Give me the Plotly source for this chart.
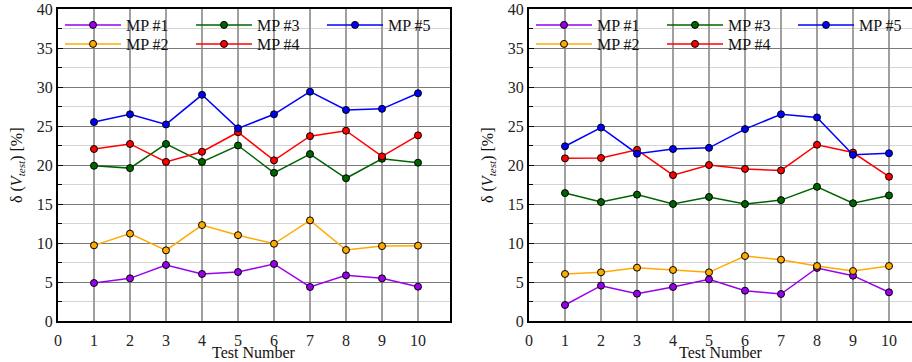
import plotly.graph_objects as go

tests = [1, 2, 3, 4, 5, 6, 7, 8, 9, 10]
x_ticks = [0, 1, 2, 3, 4, 5, 6, 7, 8, 9, 10]
y_ticks = [0, 5, 10, 15, 20, 25, 30, 35, 40]
series_names = ["MP #1", "MP #2", "MP #3", "MP #4", "MP #5"]
series_colors = ["#9900ee", "#ffaa00", "#006400", "#ff0000", "#0000ff"]

# left panel
left_mp1 = [4.87, 5.47, 7.18, 6.03, 6.28, 7.31, 4.36, 5.85, 5.47, 4.40]
left_mp2 = [9.7, 11.2, 9.06, 12.3, 11.0, 9.9, 12.9, 9.1, 9.6, 9.66]
left_mp3 = [19.9, 19.6, 22.7, 20.4, 22.5, 19.0, 21.4, 18.3, 20.8, 20.3]
left_mp4 = [22.05, 22.7, 20.4, 21.7, 24.2, 20.6, 23.7, 24.4, 21.1, 23.8]
left_mp5 = [25.5, 26.5, 25.2, 29.0, 24.7, 26.5, 29.4, 27.05, 27.2, 29.2]

# right panel
right_mp1 = [2.05, 4.53, 3.5, 4.36, 5.34, 3.89, 3.46, 6.8, 5.81, 3.68]
right_mp2 = [6.03, 6.24, 6.84, 6.54, 6.24, 8.33, 7.86, 7.05, 6.41, 7.05]
right_mp3 = [16.4, 15.25, 16.2, 15.0, 15.9, 15.0, 15.5, 17.2, 15.1, 16.1]
right_mp4 = [20.85, 20.9, 21.95, 18.7, 20.0, 19.5, 19.3, 22.6, 21.6, 18.5]
right_mp5 = [22.4, 24.8, 21.45, 22.05, 22.2, 24.6, 26.5, 26.1, 21.3, 21.5]

left_data = [left_mp1, left_mp2, left_mp3, left_mp4, left_mp5]
right_data = [right_mp1, right_mp2, right_mp3, right_mp4, right_mp5]

W, H = 912, 362
PLOT_TOP, PLOT_BOTTOM = 9, 321
L_X0, L_X1 = 58, 450
R_X0 = 529
PX_PER_UNIT = 36.0

FONT = '"Liberation Serif", "Times New Roman", Times, serif'

fig = go.Figure()

# legend assignment: row 1 -> MP#1, MP#3, MP#5 ; row 2 -> MP#2, MP#4
row_of = [0, 1, 0, 1, 0]
for panel, data, axes, legs in (
    ("L", left_data, ("x", "y"), ("legend", "legend2")),
    ("R", right_data, ("x2", "y2"), ("legend3", "legend4")),
):
    for i, (name, vals, col) in enumerate(zip(series_names, data, series_colors)):
        extra = {}
        if i == 4:
            # wide last entry so the legend never pushes the margins
            extra["legendwidth"] = 200
        fig.add_trace(go.Scatter(
            x=tests, y=vals, name=name, mode="lines+markers",
            line=dict(color=col, width=1.5),
            marker=dict(color=col, size=7, line=dict(color="black", width=1)),
            xaxis=axes[0], yaxis=axes[1],
            legend=legs[row_of[i]],
            legendrank=i,
            **extra,
        ))


def ypaper(px):
    return (PLOT_BOTTOM - px) / (PLOT_BOTTOM - PLOT_TOP)


LEG_X = 60
leg_common = dict(
    orientation="h", bgcolor="rgba(0,0,0,0)", borderwidth=0,
    font=dict(family=FONT, size=16, color="#111"),
    itemwidth=56, entrywidth=60, entrywidthmode="pixels",
    xanchor="left", yanchor="middle", traceorder="normal",
    tracegroupgap=0,
)
fig.update_layout(
    legend=dict(x=LEG_X / W, y=ypaper(25), **leg_common),
    legend2=dict(x=LEG_X / W, y=ypaper(44), **leg_common),
    legend3=dict(x=(LEG_X + R_X0 - L_X0) / W, y=ypaper(25), **leg_common),
    legend4=dict(x=(LEG_X + R_X0 - L_X0) / W, y=ypaper(44), **leg_common),
)

xcommon = dict(
    tickvals=x_ticks, ticktext=[str(v) for v in x_ticks],
    showgrid=True, gridcolor="#a0a0a0", gridwidth=1.5,
    showline=True, linecolor="black", linewidth=2,
    ticks="", zeroline=False, mirror=True,
    tickfont=dict(family=FONT, size=16, color="#222"),
    ticklabelstandoff=4,
)
ycommon = dict(
    range=[0, 40], tickvals=y_ticks,
    showgrid=True, gridcolor="#7a7a7a", gridwidth=1.2,
    showline=True, linecolor="black", linewidth=2,
    ticks="inside", ticklen=5, tickcolor="black",
    zeroline=False,
    tickfont=dict(family=FONT, size=16, color="#222"),
    minor=dict(dtick=2.5, showgrid=True, gridcolor="#d4d4d4", gridwidth=1,
               ticks="inside", ticklen=4, tickcolor="black"),
)

fig.update_layout(
    xaxis=dict(domain=[L_X0 / W, L_X1 / W],
               range=[0, (L_X1 - L_X0) / PX_PER_UNIT], anchor="y", **xcommon),
    yaxis=dict(domain=[0, 1], anchor="x", mirror=True, **ycommon),
    xaxis2=dict(domain=[R_X0 / W, 1],
                range=[0, (W - R_X0) / PX_PER_UNIT], anchor="y2", **xcommon),
    yaxis2=dict(domain=[0, 1], anchor="x2", mirror=False, **ycommon),
)

ylabel = "δ (<i>V</i><sub><i>test</i></sub>) [%]"
afont = dict(family=FONT, size=16, color="#111")
anns = [
    dict(text=ylabel, xref="paper", yref="paper", x=17 / W, y=ypaper(165),
         textangle=-90, showarrow=False, xanchor="center", yanchor="middle", font=afont),
    dict(text=ylabel, xref="paper", yref="paper", x=(17 + R_X0 - L_X0) / W,
         y=ypaper(165), textangle=-90, showarrow=False,
         xanchor="center", yanchor="middle", font=afont),
    dict(text="Test Number", xref="paper", yref="paper",
         x=(L_X0 + L_X1) / 2 / W, y=ypaper(352), showarrow=False,
         xanchor="center", yanchor="middle", font=afont),
    dict(text="Test Number", xref="paper", yref="paper",
         x=(R_X0 + W) / 2 / W, y=ypaper(352), showarrow=False,
         xanchor="center", yanchor="middle", font=afont),
]

fig.update_layout(
    annotations=anns,
    width=W, height=H,
    margin=dict(l=0, r=0, t=PLOT_TOP, b=H - PLOT_BOTTOM, pad=0, autoexpand=False),
    plot_bgcolor="white", paper_bgcolor="white",
    showlegend=True,
)

fig.write_html("out.html",
               config={"displayModeBar": False},
               post_script="document.body.style.margin='0';document.body.style.overflow='hidden';")
